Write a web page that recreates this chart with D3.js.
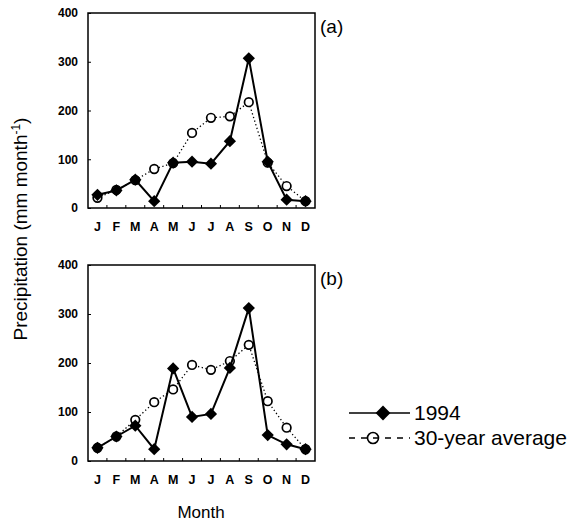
<!DOCTYPE html>
<html>
<head>
<meta charset="utf-8">
<script src="https://cdn.jsdelivr.net/npm/d3@7"></script>
<style>
  body { margin: 0; background: #fff; }
  text { font-family: "Liberation Sans", Arial, sans-serif; fill: #000; }
</style>
</head>
<body>
<div id="chart"></div>
<script>
// data
var months = ["J", "F", "M", "A", "M", "J", "J", "A", "S", "O", "N", "D"];
var yTicks = [0, 100, 200, 300, 400];
var a1994 = [27, 36, 58, 14, 93, 95, 91, 137, 307, 95, 17, 14];
var aAvg  = [21, 37, 57, 80, 92, 154, 185, 188, 217, 93, 45, 14];
var b1994 = [27, 50, 72, 24, 189, 90, 96, 190, 312, 53, 34, 24];
var bAvg  = [27, 50, 84, 120, 146, 196, 186, 204, 237, 122, 68, 24];
var panels = [
  { label: "(a)", s1994: a1994, avg: aAvg, top: 13, bottom: 208 },
  { label: "(b)", s1994: b1994, avg: bAvg, top: 265, bottom: 461 }
];

var width = 581, height = 523;
var left = 88, right = 315;

var svg = d3.select("#chart").append("svg")
  .attr("width", width)
  .attr("height", height);

var x = d3.scaleBand()
  .domain(d3.range(12))
  .range([left, right]);

// square rotated 45deg -> symmetric diamond
var diamond = d3.symbol().type(d3.symbolSquare).size(75);
var legendDiamond = d3.symbol().type(d3.symbolSquare).size(110);

panels.forEach(function(p) {
  var y = d3.scaleLinear().domain([0, 400]).range([p.bottom, p.top]);
  var g = svg.append("g");

  // frame
  g.append("rect")
    .attr("x", left).attr("y", p.top)
    .attr("width", right - left).attr("height", p.bottom - p.top)
    .attr("fill", "none").attr("stroke", "#000").attr("stroke-width", 1.5);

  // y axis
  var yAxis = g.append("g")
    .attr("transform", "translate(" + left + ",0)")
    .call(d3.axisLeft(y).tickValues(yTicks).tickSize(-3).tickPadding(10));
  yAxis.select(".domain").remove();
  yAxis.selectAll("line").attr("stroke", "#000");
  yAxis.selectAll("text")
    .style("font-family", "Liberation Sans, Arial, sans-serif")
    .style("font-size", "12px").style("font-weight", "bold");

  // x axis: month letters + inward ticks at band boundaries
  var xAxis = g.append("g")
    .attr("transform", "translate(0," + p.bottom + ")")
    .call(d3.axisBottom(x).tickFormat(function(i) { return months[i]; }).tickSize(0).tickPadding(14));
  xAxis.select(".domain").remove();
  xAxis.selectAll("text")
    .style("font-family", "Liberation Sans, Arial, sans-serif")
    .style("font-size", "12.5px").style("font-weight", "bold");
  g.selectAll(".xtick").data(d3.range(1, 12)).enter().append("line")
    .attr("x1", function(i) { return x(i); }).attr("x2", function(i) { return x(i); })
    .attr("y1", p.bottom).attr("y2", p.bottom - 3)
    .attr("stroke", "#000");

  var cx = function(d, i) { return x(i) + x.bandwidth() / 2; };

  // 30-year average
  g.append("path")
    .datum(p.avg)
    .attr("fill", "none").attr("stroke", "#000").attr("stroke-width", 1.3)
    .attr("stroke-dasharray", "1.3,2.5")
    .attr("d", d3.line().x(cx).y(function(d) { return y(d); }));
  g.selectAll(".avg").data(p.avg).enter().append("circle")
    .attr("cx", cx).attr("cy", function(d) { return y(d); })
    .attr("r", 4.3)
    .attr("fill", "#fff").attr("stroke", "#000").attr("stroke-width", 1.7);

  // 1994
  g.append("path")
    .datum(p.s1994)
    .attr("fill", "none").attr("stroke", "#000").attr("stroke-width", 2)
    .attr("d", d3.line().x(cx).y(function(d) { return y(d); }));
  g.selectAll(".d94").data(p.s1994).enter().append("path")
    .attr("d", diamond)
    .attr("transform", function(d, i) { return "translate(" + cx(d, i) + "," + y(d) + ") rotate(45)"; })
    .attr("fill", "#000");

  g.append("text")
    .attr("x", right + 5).attr("y", p.top + 20)
    .style("font-size", "19px")
    .text(p.label);
});

// axis titles
svg.append("text")
  .attr("transform", "translate(27,229) rotate(-90)")
  .attr("text-anchor", "middle")
  .style("font-size", "19px")
  .html('Precipitation (mm month<tspan dy="-7" font-size="12px">-1</tspan><tspan dy="7">)</tspan>');

svg.append("text")
  .attr("x", 201).attr("y", 518)
  .attr("text-anchor", "middle")
  .style("font-size", "17px")
  .text("Month");

// legend
var lg = svg.append("g");
lg.append("line")
  .attr("x1", 349).attr("x2", 410).attr("y1", 413).attr("y2", 413)
  .attr("stroke", "#000").attr("stroke-width", 1.5);
lg.append("path")
  .attr("d", legendDiamond)
  .attr("transform", "translate(383,413) rotate(45)")
  .attr("fill", "#000");
lg.append("text").attr("x", 414).attr("y", 420).style("font-size", "21px").text("1994");

lg.append("line")
  .attr("x1", 349).attr("x2", 410).attr("y1", 438).attr("y2", 438)
  .attr("stroke", "#000").attr("stroke-width", 1.4)
  .attr("stroke-dasharray", "6,6");
lg.append("circle")
  .attr("cx", 373).attr("cy", 438).attr("r", 5.5)
  .attr("fill", "none").attr("stroke", "#000").attr("stroke-width", 1.6);
lg.append("text").attr("x", 414).attr("y", 445).style("font-size", "21px").text("30-year average");
</script>
</body>
</html>
